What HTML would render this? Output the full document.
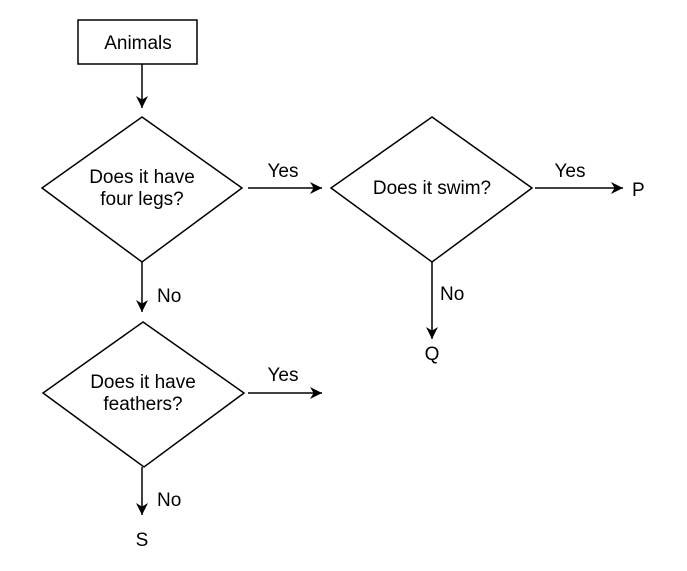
<!DOCTYPE html>
<html><head><meta charset="utf-8"><style>
html,body{margin:0;padding:0;background:#fff;}
svg{display:block;}
text{font-family:"Liberation Sans",sans-serif;font-size:19px;fill:#000;}
</style></head><body>
<svg width="687" height="571" viewBox="0 0 687 571">
<defs><marker id="a" viewBox="0 0 10 10" refX="10" refY="5" markerWidth="12" markerHeight="12" markerUnits="userSpaceOnUse" orient="auto"><path d="M0,0 L10,5 L0,10 L3,5 z" fill="#000"/></marker></defs>
<g stroke="#000" stroke-width="1.5" fill="none">
<rect x="78" y="20" width="119" height="44"/>
<line x1="142" y1="64" x2="142" y2="108" marker-end="url(#a)"/>
<polygon points="142,117 242,188 142,262 42,188"/>
<line x1="248" y1="188" x2="322" y2="188" marker-end="url(#a)"/>
<line x1="142" y1="262" x2="142" y2="312" marker-end="url(#a)"/>
<polygon points="432,117 532,188 432,262 331,188"/>
<line x1="535" y1="188" x2="623" y2="188" marker-end="url(#a)"/>
<line x1="432" y1="262" x2="432" y2="339" marker-end="url(#a)"/>
<polygon points="143,322 244,393 144,467 43,393"/>
<line x1="248" y1="393" x2="322" y2="393" marker-end="url(#a)"/>
<line x1="142" y1="467" x2="142" y2="515" marker-end="url(#a)"/>
</g>
<text x="138" y="49" text-anchor="middle">Animals</text>
<text x="142" y="183" text-anchor="middle">Does it have</text>
<text x="142" y="205" text-anchor="middle">four legs?</text>
<text x="283" y="177" text-anchor="middle">Yes</text>
<text x="157" y="302">No</text>
<text x="432" y="194" text-anchor="middle">Does it swim?</text>
<text x="570" y="177" text-anchor="middle">Yes</text>
<text x="632" y="196">P</text>
<text x="440" y="300">No</text>
<text x="432" y="360" text-anchor="middle">Q</text>
<text x="143" y="388" text-anchor="middle">Does it have</text>
<text x="143" y="410" text-anchor="middle">feathers?</text>
<text x="283" y="381" text-anchor="middle">Yes</text>
<text x="157" y="506">No</text>
<text x="142" y="546" text-anchor="middle">S</text>
</svg>
</body></html>
